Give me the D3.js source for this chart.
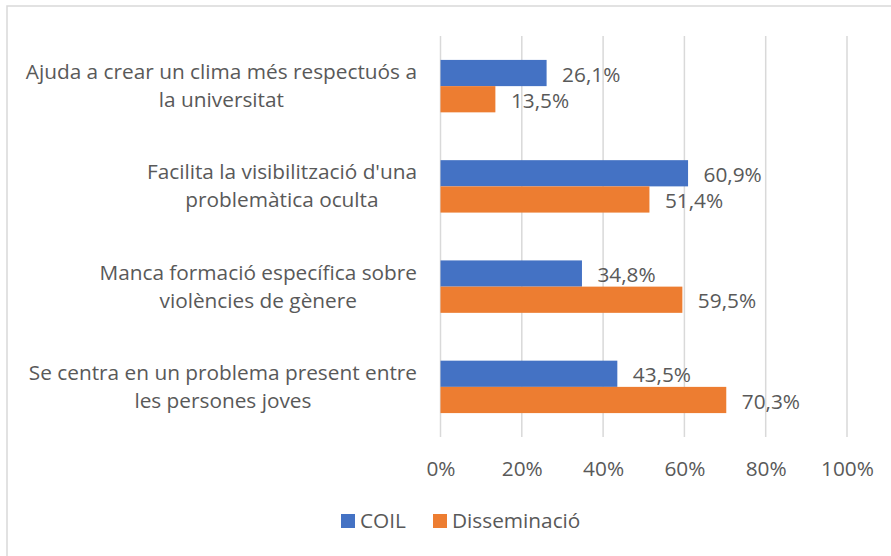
<!DOCTYPE html>
<html>
<head>
<meta charset="utf-8">
<script src="https://cdn.jsdelivr.net/npm/d3@7"></script>
<style>
  body { margin: 0; background: #fff; }
  text { font-family: "Open Sans", sans-serif; fill: #595959; }
</style>
</head>
<body>
<script>
// data
var categories = [
  ["Ajuda a crear un clima més respectuós a", "la universitat"],
  ["Facilita la visibilització d'una", "problemàtica oculta"],
  ["Manca formació específica sobre", "violències de gènere"],
  ["Se centra en un problema present entre", "les persones joves"]
];
var seriesNames = ["COIL", "Disseminació"];
var coilValues = [26.1, 60.9, 34.8, 43.5];
var dissValues = [13.5, 51.4, 59.5, 70.3];
var xTicks = [0, 20, 40, 60, 80, 100];

var colors = ["#4472C4", "#ED7D31"];
var fontSize = 20.8;

var svgWidth = 891, svgHeight = 556;
var margin = { top: 36, left: 440.5, right: 44, bottom: 119 };
var chartWidth = svgWidth - margin.left - margin.right;
var chartHeight = svgHeight - margin.top - margin.bottom;

var svg = d3.select("body").append("svg")
  .attr("width", svgWidth)
  .attr("height", svgHeight);

// chart border
svg.append("rect")
  .attr("x", 7).attr("y", 6)
  .attr("width", 1000).attr("height", 1000)
  .attr("fill", "none")
  .attr("stroke", "#d9d9d9")
  .attr("stroke-width", 1.5);

var chartGroup = svg.append("g")
  .attr("transform", `translate(${margin.left}, ${margin.top})`);

var xScale = d3.scaleLinear().domain([0, 100]).range([0, chartWidth]);

var yScale = d3.scaleBand()
  .domain(d3.range(categories.length))
  .range([0, chartHeight])
  .paddingInner(0.477)
  .paddingOuter(0.2385);

var ySub = d3.scaleBand()
  .domain(seriesNames)
  .range([0, yScale.bandwidth()]);

// gridlines
chartGroup.append("g").selectAll("line")
  .data(xTicks)
  .enter().append("line")
  .attr("x1", d => xScale(d)).attr("x2", d => xScale(d))
  .attr("y1", 0).attr("y2", chartHeight)
  .attr("stroke", "#d9d9d9")
  .attr("stroke-width", 1.5);

// x axis labels
var bottomAxis = d3.axisBottom(xScale)
  .tickValues(xTicks)
  .tickSize(0)
  .tickPadding(24)
  .tickFormat(d => d + "%");

var xAxis = chartGroup.append("g")
  .attr("transform", `translate(0, ${chartHeight})`)
  .call(bottomAxis);
xAxis.select(".domain").remove();
xAxis.selectAll("text")
  .attr("font-size", fontSize)
  .attr("font-family", "Open Sans")
  .attr("fill", "#595959");

// bars
var groups = chartGroup.selectAll(".grp")
  .data(categories)
  .enter().append("g")
  .attr("transform", (d, i) => `translate(0, ${yScale(i)})`);

groups.each(function(d, i) {
  var g = d3.select(this);
  var vals = [coilValues[i], dissValues[i]];
  vals.forEach(function(v, j) {
    g.append("rect")
      .attr("x", xScale(0))
      .attr("y", ySub(seriesNames[j]))
      .attr("width", xScale(v) - xScale(0))
      .attr("height", ySub.bandwidth())
      .attr("fill", colors[j]);
    g.append("text")
      .attr("x", xScale(v) + 15.5)
      .attr("y", ySub(seriesNames[j]) + ySub.bandwidth() / 2 + 8.7)
      .attr("font-size", fontSize)
      .text(String(v.toFixed(1)).replace(".", ",") + "%");
  });
});

// category labels (block right aligned, lines centered)
var labelRight = 417;
categories.forEach(function(lines, i) {
  var cy = margin.top + yScale(i) + yScale.bandwidth() / 2;
  var lab = svg.append("g");
  var texts = lab.selectAll("text")
    .data(lines)
    .enter().append("text")
    .attr("font-size", fontSize)
    .attr("text-anchor", "middle")
    .attr("y", (d, k) => cy - 7 + k * 28)
    .text(d => d);
  var maxW = d3.max(texts.nodes(), n => n.getComputedTextLength());
  texts.attr("x", labelRight - maxW / 2);
});

// legend
var legendX = [341, 433];
var legend = svg.append("g").selectAll("g")
  .data(seriesNames)
  .enter().append("g")
  .attr("transform", (d, i) => `translate(${legendX[i]}, 514)`);
legend.append("rect")
  .attr("width", 14).attr("height", 14)
  .attr("fill", (d, i) => colors[i]);
legend.append("text")
  .attr("x", 19)
  .attr("y", 14)
  .attr("font-size", fontSize)
  .text(d => d);
</script>
</body>
</html>
